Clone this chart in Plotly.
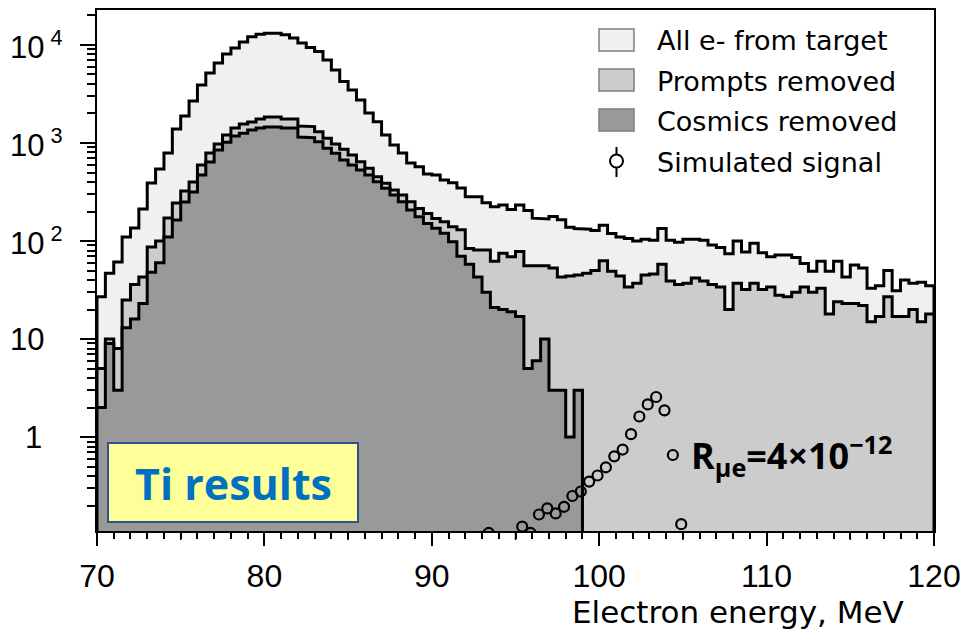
import numpy as np
import plotly.graph_objects as go

# ---------------- data ----------------
E_LO, E_HI, BIN_W = 70.0, 120.0, 0.5
edges = np.arange(E_LO, E_HI + BIN_W / 2, BIN_W)          # 101 bin edges, MeV

all_from_target = [
    27, 47, 61, 110, 136, 212, 391, 543, 791, 1390,
    1890, 2690, 3910, 5180, 6550, 8090, 9310, 10700, 12100, 12900,
    13200, 13200, 12700, 11800, 10500, 9400, 8560, 7030, 5560, 4230,
    3470, 2750, 2020, 1650, 1210, 955, 790, 625, 573, 483,
    471, 419, 393, 347, 283, 283, 246, 224, 233, 209,
    233, 205, 171, 168, 178, 165, 138, 134, 132, 128,
    145, 119, 110, 106, 100, 104, 102, 134, 102, 97,
    104, 104, 102, 91, 86, 74, 100, 77, 95, 76,
    69, 72, 72, 68, 59, 49, 62, 49, 62, 43,
    57, 53, 33, 35, 50, 31, 40, 37, 38, 35,
]

prompts_removed = [
    5, 10, 8, 25, 36, 43, 87, 100, 172, 244,
    324, 400, 597, 790, 977, 1210, 1420, 1560, 1640, 1760,
    1840, 1840, 1760, 1760, 1490, 1470, 1300, 1120, 977, 862,
    755, 645, 552, 453, 388, 331, 295, 252, 215, 191,
    170, 157, 140, 130, 84, 81, 81, 62, 75, 69,
    78, 56, 56, 56, 53, 43, 44, 45, 47, 50,
    63, 49, 44, 34, 37, 45, 46, 58, 39, 36,
    37, 42, 39, 36, 34, 20, 37, 32, 37, 32,
    34, 28, 27, 30, 34, 30, 33, 18, 24, 23,
    23, 22, 15, 17, 27, 17, 17, 20, 15, 18,
]

cosmics_removed = [
    2, 9, 3, 13, 16, 23, 48, 60, 110, 164,
    250, 316, 471, 640, 849, 1020, 1180, 1260, 1360, 1420,
    1460, 1460, 1420, 1420, 1150, 1130, 1030, 883, 785, 671,
    597, 530, 471, 403, 345, 295, 252, 207, 177, 151,
    135, 120, 98, 70, 58, 43, 30, 21, 20, 19,
    17, 5, 6, 10, 3, 3, 1, 3, 0, 0,
    0, 0, 0, 0, 0, 0, 0, 0, 0, 0,
    0, 0, 0, 0, 0, 0, 0, 0, 0, 0,
    0, 0, 0, 0, 0, 0, 0, 0, 0, 0,
    0, 0, 0, 0, 0, 0, 0, 0, 0, 0,
]

signal_energy = [93.4, 95.4, 95.9, 96.4, 96.9, 97.4, 97.9, 98.4, 98.9, 99.4,
                 99.9, 100.4, 100.9, 101.4, 101.9, 102.4, 102.9, 103.4,
                 103.9, 104.4, 104.9]
signal_counts = [0.105, 0.122, 0.105, 0.162, 0.187, 0.166, 0.194, 0.25, 0.278, 0.351,
                 0.405, 0.491, 0.635, 0.745, 1.07, 1.62, 2.15, 2.56,
                 1.87, 0.655, 0.129]

y_tick_values = [1, 10, 100, 1000, 10000]
y_tick_labels = ["1", "10", "10<sup>\u00a02</sup>", "10<sup>\u00a03</sup>", "10<sup>\u00a04</sup>"]
x_tick_values = [70, 80, 90, 100, 110, 120]
x_mid_ticks = [75, 85, 95, 105, 115]

legend_names = ["All e- from target", "Prompts removed", "Cosmics removed", "Simulated signal"]
fill_colors = ["#f0f0f0", "#cccccc", "#999999"]

# ---------------- geometry helpers (figure pixels -> paper) ----------------
W, H = 963, 633
PL, PR, PT, PB = 97, 934, 10, 531          # plot-area box in pixels
Y_RANGE = [-0.959, 4.357]                  # log10 range


def px(x):
    return (x - PL) / (PR - PL)


def py(y):
    return (PB - y) / (PB - PT)


FLOOR = 1e-3  # below the visible range, used to close the filled areas


def step_polygon(values):
    v = np.asarray(values, dtype=float)
    v = np.where(v > 0, v, FLOOR)
    xs = np.repeat(edges, 2)
    ys = np.concatenate([[FLOOR], np.repeat(v, 2), [FLOOR]])
    return xs, ys


fig = go.Figure()

for vals, color, name in zip([all_from_target, prompts_removed, cosmics_removed],
                             fill_colors, legend_names[:3]):
    xs, ys = step_polygon(vals)
    fig.add_trace(go.Scatter(
        x=xs, y=ys, mode="lines", name=name, fill="toself", fillcolor=color,
        line=dict(color="black", width=3), showlegend=False, hoverinfo="skip",
    ))

fig.add_trace(go.Scatter(
    x=signal_energy, y=signal_counts, mode="markers", name=legend_names[3],
    marker=dict(symbol="circle-open", size=10, color="black", line=dict(width=2.2)),
    showlegend=False,
))

# ---------------- axes ----------------
fig.update_xaxes(
    range=[E_LO, E_HI], tickvals=x_tick_values, ticks="outside", ticklen=13,
    tickwidth=2, tickcolor="black", showline=True, linewidth=2, linecolor="black",
    mirror=True, showgrid=False, zeroline=False, automargin=False,
    ticklabelstandoff=3,
    tickfont=dict(family="Liberation Sans, Arial, sans-serif", size=32, color="black"),
    minor=dict(dtick=1, ticks="outside", ticklen=6, tickwidth=1.5, tickcolor="black",
               showgrid=False),
)

minor_y = [k * 10.0 ** n for n in range(-1, 5) for k in range(2, 10)]
fig.update_yaxes(
    type="log", range=Y_RANGE, tickvals=y_tick_values, showticklabels=False,
    ticks="outside", ticklen=15, tickwidth=2, tickcolor="black",
    showline=True, linewidth=2, linecolor="black", mirror=True,
    showgrid=False, zeroline=False, automargin=False,
    minor=dict(tickvals=minor_y, ticks="outside", ticklen=8, tickwidth=1.5,
               tickcolor="black", showgrid=False),
)

shapes = []
annotations = []

# half-way ticks on the energy axis
for xv in x_mid_ticks:
    shapes.append(dict(type="line", xref="x", yref="paper", x0=xv, x1=xv,
                       y0=0, y1=-9 / (PB - PT), line=dict(color="black", width=1.5)))

# y tick labels
tick_font = dict(family="Liberation Sans, Arial, sans-serif", size=31, color="black")
for val, lab in zip(y_tick_values, y_tick_labels):
    if lab.startswith("10"):
        annotations.append(dict(text=lab, xref="paper", yref="y", x=px(8), y=np.log10(val),
                                xanchor="left", yanchor="middle", showarrow=False,
                                font=tick_font))
    else:
        annotations.append(dict(text=lab, xref="paper", yref="y", x=px(44), y=np.log10(val),
                                xanchor="right", yanchor="middle", showarrow=False,
                                font=tick_font))

# axis title
annotations.append(dict(text="Electron energy, MeV", xref="paper", yref="paper",
                        x=px(906), y=py(612), xanchor="right", yanchor="middle",
                        showarrow=False,
                        font=dict(family="DejaVu Sans", size=31, color="black")))

# legend
legend_font = dict(family="DejaVu Sans", size=27, color="black")
for i, (name, color) in enumerate(zip(legend_names[:3], fill_colors)):
    top = 29 + 40 * i
    shapes.append(dict(type="rect", xref="paper", yref="paper",
                       x0=px(599), x1=px(634), y0=py(top), y1=py(top + 22),
                       fillcolor=color, line=dict(color="#7f7f7f", width=1.5)))
    annotations.append(dict(text=name, xref="paper", yref="paper", x=px(655),
                            y=py(top + 12), xanchor="left", yanchor="middle",
                            showarrow=False, font=legend_font))
cy = 161
shapes.append(dict(type="line", xref="paper", yref="paper", x0=px(616.5), x1=px(616.5),
                   y0=py(147), y1=py(cy - 6.5), line=dict(color="black", width=2)))
shapes.append(dict(type="line", xref="paper", yref="paper", x0=px(616.5), x1=px(616.5),
                   y0=py(cy + 6.5), y1=py(177), line=dict(color="black", width=2)))
shapes.append(dict(type="circle", xref="paper", yref="paper",
                   x0=px(610), x1=px(623), y0=py(cy - 6.5), y1=py(cy + 6.5),
                   fillcolor="white", line=dict(color="black", width=2)))
annotations.append(dict(text=legend_names[3], xref="paper", yref="paper", x=px(655),
                        y=py(cy + 1), xanchor="left", yanchor="middle",
                        showarrow=False, font=legend_font))

# branching ratio label
annotations.append(dict(text="<b>R<sub>\u03bce</sub>=4\u00d710<sup>\u221212</sup></b>",
                        xref="paper", yref="paper", x=px(689), y=py(455),
                        xanchor="left", yanchor="middle", showarrow=False,
                        font=dict(family="Open Sans", size=36, color="black")))

# "Ti results" tag
shapes.append(dict(type="rect", xref="paper", yref="paper",
                   x0=px(108), x1=px(358), y0=py(443), y1=py(522),
                   fillcolor="#ffff99", line=dict(color="#2f528f", width=2)))
annotations.append(dict(text="<b>Ti results</b>", xref="paper", yref="paper",
                        x=px(233), y=py(483), xanchor="center", yanchor="middle",
                        showarrow=False,
                        font=dict(family="Open Sans", size=43, color="#0070c0")))

fig.update_layout(
    width=W, height=H, margin=dict(l=PL, r=W - PR, t=PT, b=H - PB, pad=0),
    paper_bgcolor="white", plot_bgcolor="white", showlegend=False,
    shapes=shapes, annotations=annotations,
)

fig.write_html("out.html")
